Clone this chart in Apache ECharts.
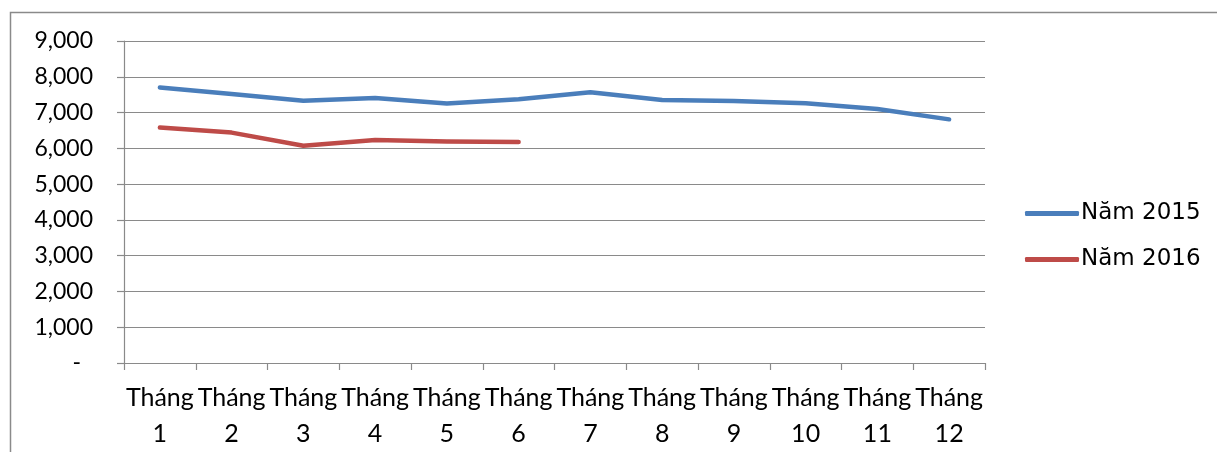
<!DOCTYPE html>
<html>
<head>
<meta charset="utf-8">
<script src="https://cdn.jsdelivr.net/npm/echarts@6/dist/echarts.min.js"></script>
<style>
html,body{margin:0;padding:0;background:#fff;}
#chart{width:1217px;height:452px;}
</style>
</head>
<body>
<div id="chart"></div>
<script>
const categories = ['Tháng\n1','Tháng\n2','Tháng\n3','Tháng\n4','Tháng\n5','Tháng\n6','Tháng\n7','Tháng\n8','Tháng\n9','Tháng\n10','Tháng\n11','Tháng\n12'];
const seriesNames = ['Năm 2015', 'Năm 2016'];
const values2015 = [7700, 7520, 7330, 7410, 7250, 7370, 7570, 7350, 7320, 7260, 7100, 6810];
const values2016 = [6580, 6440, 6070, 6235, 6190, 6180];
const yTicks = [0, 1000, 2000, 3000, 4000, 5000, 6000, 7000, 8000, 9000];

const chart = echarts.init(document.getElementById('chart'));
const gridColor = '#8a8a8a';
const axisFont = 'Lato';
chart.setOption({
  animation: false,
  backgroundColor: '#fff',
  graphic: [{
    type: 'rect',
    shape: { x: 10.5, y: 12.5, width: 1300, height: 600 },
    style: { fill: 'none', stroke: '#8a8a8a', lineWidth: 1.5 },
    silent: true
  }],
  grid: { left: 124, right: 232, top: 41, bottom: 89 },
  legend: {
    orient: 'vertical',
    left: 1025,
    top: 202,
    padding: 0,
    itemGap: 23,
    itemWidth: 54,
    itemHeight: 5,
    icon: 'roundRect',
    data: seriesNames,
    textStyle: { fontFamily: 'DejaVu Sans', fontSize: 23, color: '#000', padding: [0, 0, 0, -3] }
  },
  xAxis: {
    type: 'category',
    data: categories,
    boundaryGap: true,
    axisLine: { lineStyle: { color: gridColor, width: 1.2 } },
    axisTick: { show: true, length: 7, lineStyle: { color: gridColor, width: 1.2 } },
    axisLabel: {
      interval: 0,
      margin: 17,
      lineHeight: 36,
      fontFamily: axisFont,
      fontSize: 25,
      color: '#000'
    },
    splitLine: { show: false }
  },
  yAxis: {
    type: 'value',
    min: yTicks[0],
    max: yTicks[yTicks.length - 1],
    interval: 1000,
    axisLine: { show: true, lineStyle: { color: gridColor, width: 1.2 } },
    axisTick: { show: true, length: 7, lineStyle: { color: gridColor, width: 1.2 } },
    splitLine: { lineStyle: { color: gridColor, width: 1.2 } },
    axisLabel: {
      margin: 31,
      fontFamily: axisFont,
      fontSize: 23,
      color: '#000',
      formatter: function (v) { return v === 0 ? '{z|-}' : v.toLocaleString('en-US'); },
      rich: { z: { fontFamily: axisFont, fontSize: 23, color: '#000', padding: [0, 12, 0, 0] } }
    }
  },
  series: [
    {
      name: seriesNames[0],
      type: 'line',
      data: values2015,
      symbol: 'none',
      lineStyle: { color: '#4A7EBB', width: 4.5, cap: 'round', join: 'round' },
      itemStyle: { color: '#4A7EBB' }
    },
    {
      name: seriesNames[1],
      type: 'line',
      data: values2016,
      symbol: 'none',
      lineStyle: { color: '#BE4B48', width: 4.5, cap: 'round', join: 'round' },
      itemStyle: { color: '#BE4B48' }
    }
  ]
});
</script>
</body>
</html>
